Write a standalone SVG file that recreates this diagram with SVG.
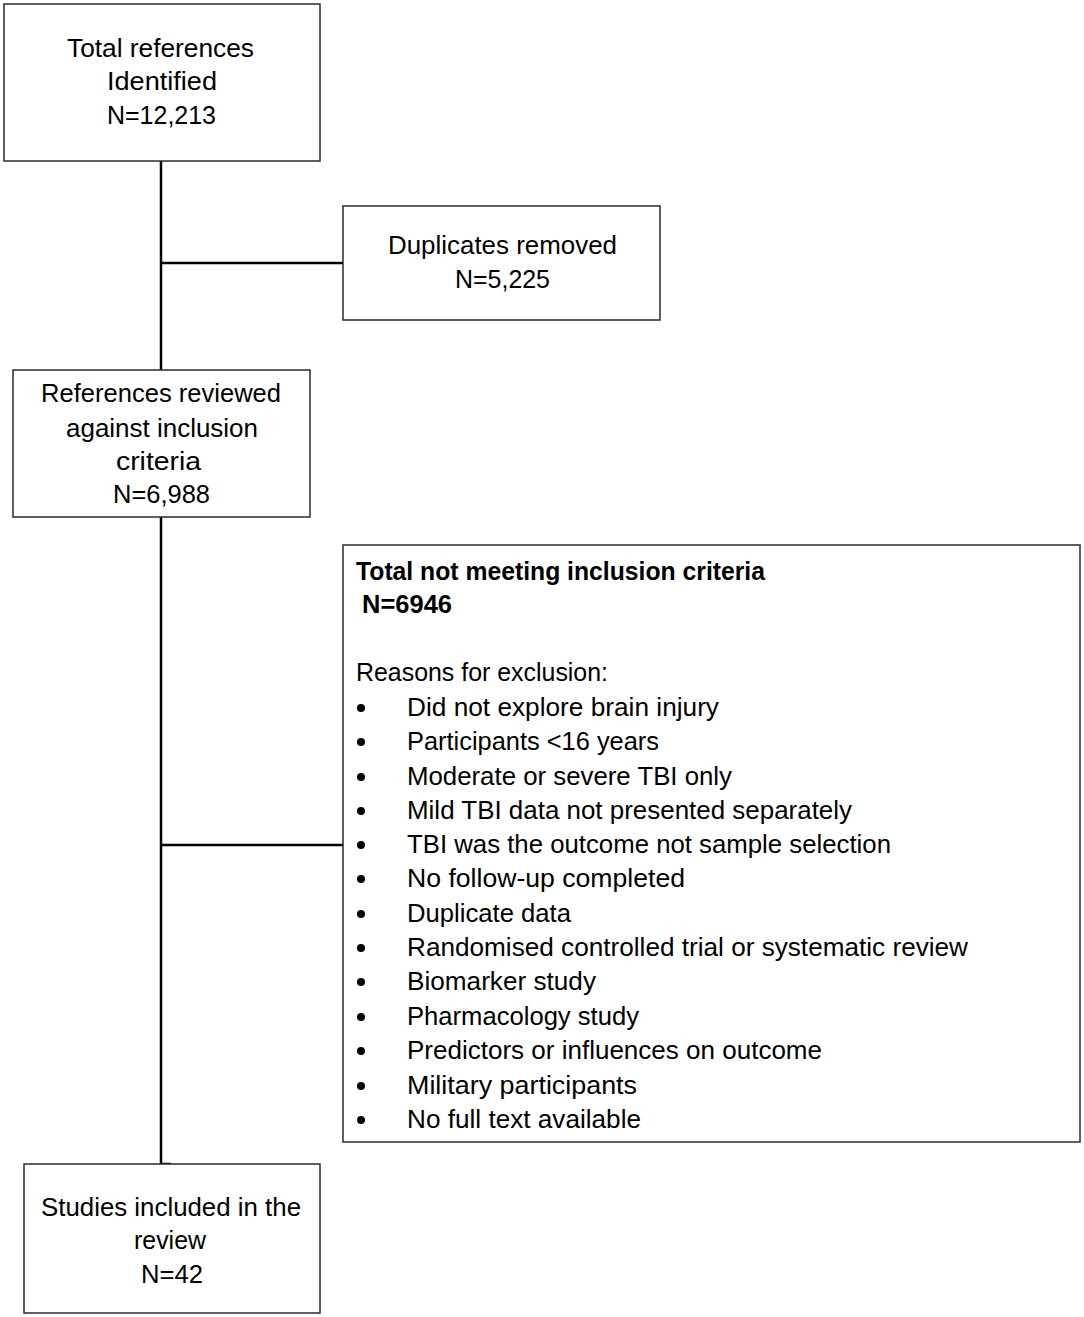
<svg xmlns="http://www.w3.org/2000/svg" width="1084" height="1317" viewBox="0 0 1084 1317">
<style>
.box{fill:#fff;stroke:#2b2b2b;stroke-width:1.5}
.conn{fill:none;stroke:#000;stroke-width:2.5}
text{font-family:"Liberation Sans",Arial,sans-serif;font-size:25px;fill:#000}
.b{font-weight:bold}
.bul{fill:#000}
</style>
<rect width="1084" height="1317" fill="#fff"/>
<g id="connectors">
<path class="conn" d="M161,161 V370"/>
<path class="conn" d="M161,263 H343"/>
<path class="conn" d="M161,517 V1164 H171"/>
<path class="conn" d="M161,845 H343"/>
</g>
<g id="n1">
<rect class="box" x="4" y="4" width="316" height="157"/>
<text x="67" y="57" textLength="187" lengthAdjust="spacingAndGlyphs">Total references</text>
<text x="107" y="90" textLength="110" lengthAdjust="spacingAndGlyphs">Identified</text>
<text x="107" y="124" textLength="109" lengthAdjust="spacingAndGlyphs">N=12,213</text>
</g>
<g id="n2">
<rect class="box" x="343" y="206" width="317" height="114"/>
<text x="388" y="254" textLength="229" lengthAdjust="spacingAndGlyphs">Duplicates removed</text>
<text x="455" y="288" textLength="95" lengthAdjust="spacingAndGlyphs">N=5,225</text>
</g>
<g id="n3">
<rect class="box" x="13" y="370" width="297" height="147"/>
<text x="41" y="402" textLength="240" lengthAdjust="spacingAndGlyphs">References reviewed</text>
<text x="66" y="437" textLength="192" lengthAdjust="spacingAndGlyphs">against inclusion</text>
<text x="116" y="470" textLength="85" lengthAdjust="spacingAndGlyphs">criteria</text>
<text x="113" y="503" textLength="97" lengthAdjust="spacingAndGlyphs">N=6,988</text>
</g>
<g id="n4">
<rect class="box" x="343" y="545" width="737" height="597"/>
<text class="b" x="356" y="580" textLength="409" lengthAdjust="spacingAndGlyphs">Total not meeting inclusion criteria</text>
<text class="b" x="362" y="613" textLength="90" lengthAdjust="spacingAndGlyphs">N=6946</text>
<text x="356" y="681" textLength="252" lengthAdjust="spacingAndGlyphs">Reasons for exclusion:</text>
<g class="bul">
<circle cx="361" cy="708" r="4"/>
<circle cx="361" cy="742" r="4"/>
<circle cx="361" cy="777" r="4"/>
<circle cx="361" cy="811" r="4"/>
<circle cx="361" cy="845" r="4"/>
<circle cx="361" cy="879" r="4"/>
<circle cx="361" cy="914" r="4"/>
<circle cx="361" cy="948" r="4"/>
<circle cx="361" cy="982" r="4"/>
<circle cx="361" cy="1017" r="4"/>
<circle cx="361" cy="1051" r="4"/>
<circle cx="361" cy="1086" r="4"/>
<circle cx="361" cy="1120" r="4"/>
</g>
<text x="407" y="716" textLength="312" lengthAdjust="spacingAndGlyphs">Did not explore brain injury</text>
<text x="407" y="750" textLength="252" lengthAdjust="spacingAndGlyphs">Participants &lt;16 years</text>
<text x="407" y="785" textLength="325" lengthAdjust="spacingAndGlyphs">Moderate or severe TBI only</text>
<text x="407" y="819" textLength="445" lengthAdjust="spacingAndGlyphs">Mild TBI data not presented separately</text>
<text x="407" y="853" textLength="484" lengthAdjust="spacingAndGlyphs">TBI was the outcome not sample selection</text>
<text x="407" y="887" textLength="278" lengthAdjust="spacingAndGlyphs">No follow-up completed</text>
<text x="407" y="922" textLength="164" lengthAdjust="spacingAndGlyphs">Duplicate data</text>
<text x="407" y="956" textLength="561" lengthAdjust="spacingAndGlyphs">Randomised controlled trial or systematic review</text>
<text x="407" y="990" textLength="189" lengthAdjust="spacingAndGlyphs">Biomarker study</text>
<text x="407" y="1025" textLength="232" lengthAdjust="spacingAndGlyphs">Pharmacology study</text>
<text x="407" y="1059" textLength="415" lengthAdjust="spacingAndGlyphs">Predictors or influences on outcome</text>
<text x="407" y="1094" textLength="230" lengthAdjust="spacingAndGlyphs">Military participants</text>
<text x="407" y="1128" textLength="234" lengthAdjust="spacingAndGlyphs">No full text available</text>
</g>
<g id="n5">
<rect class="box" x="24" y="1164" width="296" height="149"/>
<text x="41" y="1216" textLength="260" lengthAdjust="spacingAndGlyphs">Studies included in the</text>
<text x="134" y="1249" textLength="72" lengthAdjust="spacingAndGlyphs">review</text>
<text x="141" y="1283" textLength="62" lengthAdjust="spacingAndGlyphs">N=42</text>
</g>
</svg>
